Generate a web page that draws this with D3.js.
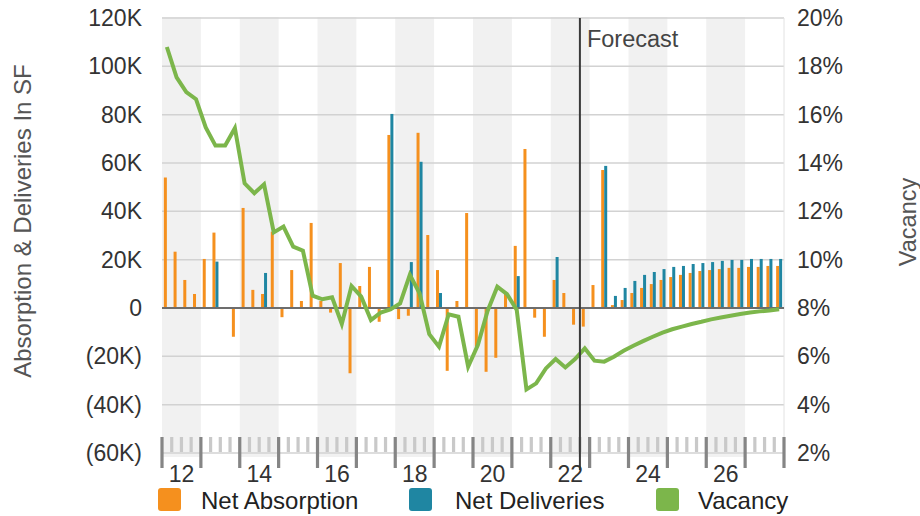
<!DOCTYPE html>
<html>
<head>
<meta charset="utf-8">
<script src="https://cdn.jsdelivr.net/npm/d3@7/dist/d3.min.js"></script>
<style>
  html, body { margin: 0; padding: 0; background: #ffffff; }
  svg { display: block; font-family: "Liberation Sans", Arial, Helvetica, sans-serif; }
</style>
</head>
<body>
<svg id="chart" width="920" height="516"></svg>
<script>
// Calendar: sixteen years of quarterly data, forecast begins in 2022 Q4
const years = [2012, 2013, 2014, 2015, 2016, 2017, 2018, 2019, 2020, 2021, 2022, 2023, 2024, 2025, 2026, 2027];
const quarterNames = ["Q1", "Q2", "Q3", "Q4"];
const forecastStart = "2022 Q4";
const yearTickLabels = ["12", "14", "16", "18", "20", "22", "24", "26"];

// Net absorption, thousands of SF per quarter
const netAbsorption = [
  54, 23.3, 11.6, 5.8,
  20.3, 31.2, 0, -11.9,
  41.4, 7.5, 5.8, 31.6,
  -3.8, 15.7, 2.9, 35.2,
  2.9, -1.9, 18.6, -27,
  9.1, 17, -5.7, 71.6,
  -4.6, -3.2, 72.5, 30.2,
  15.7, -26, 2.9, 39.3,
  -16, -26.4, -20.6, 6,
  25.7, 65.8, -4, -11.9,
  11.6, 6.2, -6.9, -7.7,
  9.5, 57.1, 1.2, 3.3,
  6.2, 8.3, 9.9, 11.6,
  12.8, 13.7, 14.5, 15.3,
  15.7, 16.1, 16.6, 16.6,
  17, 17, 17.4, 17.4
];

// Net deliveries, thousands of SF per quarter
const netDeliveries = [
  0, 0, 0, 0,
  0, 19.2, 0, 0,
  0, 0, 14.5, 0,
  0, 0, 0, 0,
  0, 0, 0, 0,
  0, 0, 0, 80.3,
  0, 19, 60.5, 0,
  6.2, 0, 0, 0,
  0, 0, 0, 0,
  13.2, 0, 0, 0,
  21.1, 0, 0, 0,
  0, 58.8, 5, 8.3,
  11.2, 13.7, 14.9, 16.1,
  17, 17.4, 18.2, 18.6,
  19, 19.5, 19.9, 19.9,
  20.3, 20.3, 20.3, 20.3
];

// Vacancy rate, percent
const vacancy = [
  18.8, 17.54, 16.93, 16.64,
  15.47, 14.72, 14.72, 15.44,
  13.16, 12.75, 13.12, 11.13,
  11.37, 10.54, 10.37, 8.51,
  8.36, 8.44, 7.34, 8.91,
  8.47, 7.5, 7.81, 7.94,
  8.19, 9.37, 8.61, 6.92,
  6.4, 7.74, 7.64, 5.57,
  6.47, 7.88, 8.88, 8.57,
  7.92, 4.63, 4.88, 5.5,
  5.89, 5.54, 5.89, 6.33,
  5.82, 5.78, 5.98, 6.23,
  6.44, 6.63, 6.81, 6.98,
  7.12, 7.23, 7.34, 7.43,
  7.53, 7.61, 7.68, 7.75,
  7.81, 7.86, 7.9, 7.95
];

const leftTicks = [-60, -40, -20, 0, 20, 40, 60, 80, 100, 120];
const rightTicks = [2, 4, 6, 8, 10, 12, 14, 16, 18, 20];

const seriesNames = ["Net Absorption", "Net Deliveries", "Vacancy"];
const colors = { "Net Absorption": "#f5901e", "Net Deliveries": "#1f86a2", "Vacancy": "#7cb64b" };

const quarters = years.flatMap(y => quarterNames.map(q => `${y} ${q}`));
const rows = quarters.map((q, i) => ({
  q, absorption: netAbsorption[i], deliveries: netDeliveries[i], vacancy: vacancy[i]
}));

const plot = { left: 162, right: 784, top: 18, bottom: 453 };
const svg = d3.select("#chart");

const x = d3.scaleBand().domain(quarters).range([plot.left, plot.right]).padding(0);
const xYear = d3.scaleLinear().domain([years[0], years[years.length - 1] + 1]).range([plot.left, plot.right]);
const xSeries = d3.scaleBand().domain(["absorption", "deliveries"])
  .range([x.bandwidth() / 2 - 3, x.bandwidth() / 2 + 3]);
const yL = d3.scaleLinear().domain([-60, 120]).range([plot.bottom, plot.top]);
const yR = d3.scaleLinear().domain([2, 20]).range([plot.bottom, plot.top]);
const cx = q => x(q) + x.bandwidth() / 2;

// Alternating year bands
svg.append("g").selectAll("rect")
  .data(years.filter((y, i) => i % 2 === 0))
  .join("rect")
  .attr("x", d => xYear(d))
  .attr("width", d => xYear(d + 1) - xYear(d))
  .attr("y", plot.top - 1)
  .attr("height", plot.bottom - plot.top + 5)
  .attr("fill", "#f1f1f1");

// Horizontal gridlines
svg.append("g").selectAll("line")
  .data(leftTicks.filter(t => t !== 0))
  .join("line")
  .attr("x1", plot.left).attr("x2", plot.right)
  .attr("y1", d => yL(d)).attr("y2", d => yL(d))
  .attr("stroke", "#d2d2d2").attr("stroke-width", 1.5);

// Right edge of the plot
svg.append("line")
  .attr("x1", plot.right).attr("x2", plot.right)
  .attr("y1", plot.top).attr("y2", plot.bottom)
  .attr("stroke", "#e2e2e2").attr("stroke-width", 1);

// Quarter and year ticks along the bottom
const boundaries = d3.range(quarters.length + 1);
svg.append("g").selectAll("rect")
  .data(boundaries)
  .join("rect")
  .attr("x", i => xYear(years[0] + i / 4) - 1.6)
  .attr("width", 3.2)
  .attr("y", 437)
  .attr("height", i => i % 4 === 0 ? 31 : 15)
  .attr("fill", i => i % 4 === 0 ? "#858585" : "#c9c9c9");

// Bars
const bars = svg.append("g");
bars.selectAll("rect.abs")
  .data(rows.filter(d => d.absorption !== 0))
  .join("rect").attr("class", "abs")
  .attr("x", d => x(d.q) + xSeries("absorption"))
  .attr("width", xSeries.bandwidth())
  .attr("y", d => yL(Math.max(0, d.absorption)))
  .attr("height", d => Math.abs(yL(d.absorption) - yL(0)))
  .attr("fill", colors["Net Absorption"]);
bars.selectAll("rect.del")
  .data(rows.filter(d => d.deliveries !== 0))
  .join("rect").attr("class", "del")
  .attr("x", d => x(d.q) + xSeries("deliveries"))
  .attr("width", xSeries.bandwidth())
  .attr("y", d => yL(Math.max(0, d.deliveries)))
  .attr("height", d => Math.abs(yL(d.deliveries) - yL(0)))
  .attr("fill", colors["Net Deliveries"]);

// Zero line
svg.append("line")
  .attr("x1", plot.left).attr("x2", plot.right)
  .attr("y1", yL(0)).attr("y2", yL(0))
  .attr("stroke", "#6d6d6d").attr("stroke-width", 2);

// Vacancy line
const line = d3.line().x(d => cx(d.q)).y(d => yR(d.vacancy));
svg.append("path")
  .datum(rows)
  .attr("d", line)
  .attr("fill", "none")
  .attr("stroke", colors["Vacancy"])
  .attr("stroke-width", 4);

// Forecast marker
const fx = x(forecastStart);
svg.append("line")
  .attr("x1", fx).attr("x2", fx)
  .attr("y1", plot.top).attr("y2", 470)
  .attr("stroke", "#3a3a3a").attr("stroke-width", 2);
svg.append("text")
  .attr("x", fx + 7).attr("y", 47)
  .attr("font-size", 23.5).attr("fill", "#444")
  .text("Forecast");

// Left axis
const fmtK = v => v === 0 ? "0" : v < 0 ? `(${-v}K)` : `${v}K`;
const leftAxis = svg.append("g")
  .attr("transform", `translate(${plot.left - 20},0)`)
  .call(d3.axisLeft(yL).tickValues(leftTicks).tickFormat(fmtK).tickSize(0).tickPadding(0));
leftAxis.select(".domain").remove();
leftAxis.selectAll("text")
  .attr("font-size", 23).attr("fill", "#333")
  .attr("font-family", "Liberation Sans, Arial, sans-serif");

// Right axis
const rightAxis = svg.append("g")
  .attr("transform", `translate(${plot.right + 13},0)`)
  .call(d3.axisRight(yR).tickValues(rightTicks).tickFormat(v => `${v}%`).tickSize(0).tickPadding(0));
rightAxis.select(".domain").remove();
rightAxis.selectAll("text")
  .attr("font-size", 23).attr("fill", "#333")
  .attr("font-family", "Liberation Sans, Arial, sans-serif");

// Year labels
svg.append("g").selectAll("text")
  .data(yearTickLabels)
  .join("text")
  .attr("x", d => xYear(2000 + +d + 0.5))
  .attr("y", 482)
  .attr("text-anchor", "middle")
  .attr("font-size", 23).attr("fill", "#333")
  .text(d => d);

// Axis titles
svg.append("text")
  .attr("transform", "translate(31,221) rotate(-90)")
  .attr("text-anchor", "middle")
  .attr("font-size", 24).attr("fill", "#555")
  .text("Absorption & Deliveries In SF");
svg.append("text")
  .attr("transform", "translate(916,222) rotate(-90)")
  .attr("text-anchor", "middle")
  .attr("font-size", 23.5).attr("fill", "#555")
  .text("Vacancy");

// Legend
const legendX = [158, 409, 656];
const legend = svg.append("g").selectAll("g")
  .data(seriesNames)
  .join("g")
  .attr("transform", (d, i) => `translate(${legendX[i]},488)`);
legend.append("rect")
  .attr("width", 23).attr("height", 23).attr("rx", 3)
  .attr("fill", d => colors[d]);
legend.append("text")
  .attr("x", (d, i) => [43, 46, 42][i]).attr("y", 21)
  .attr("font-size", 24).attr("fill", "#222")
  .text(d => d);
</script>
</body>
</html>
